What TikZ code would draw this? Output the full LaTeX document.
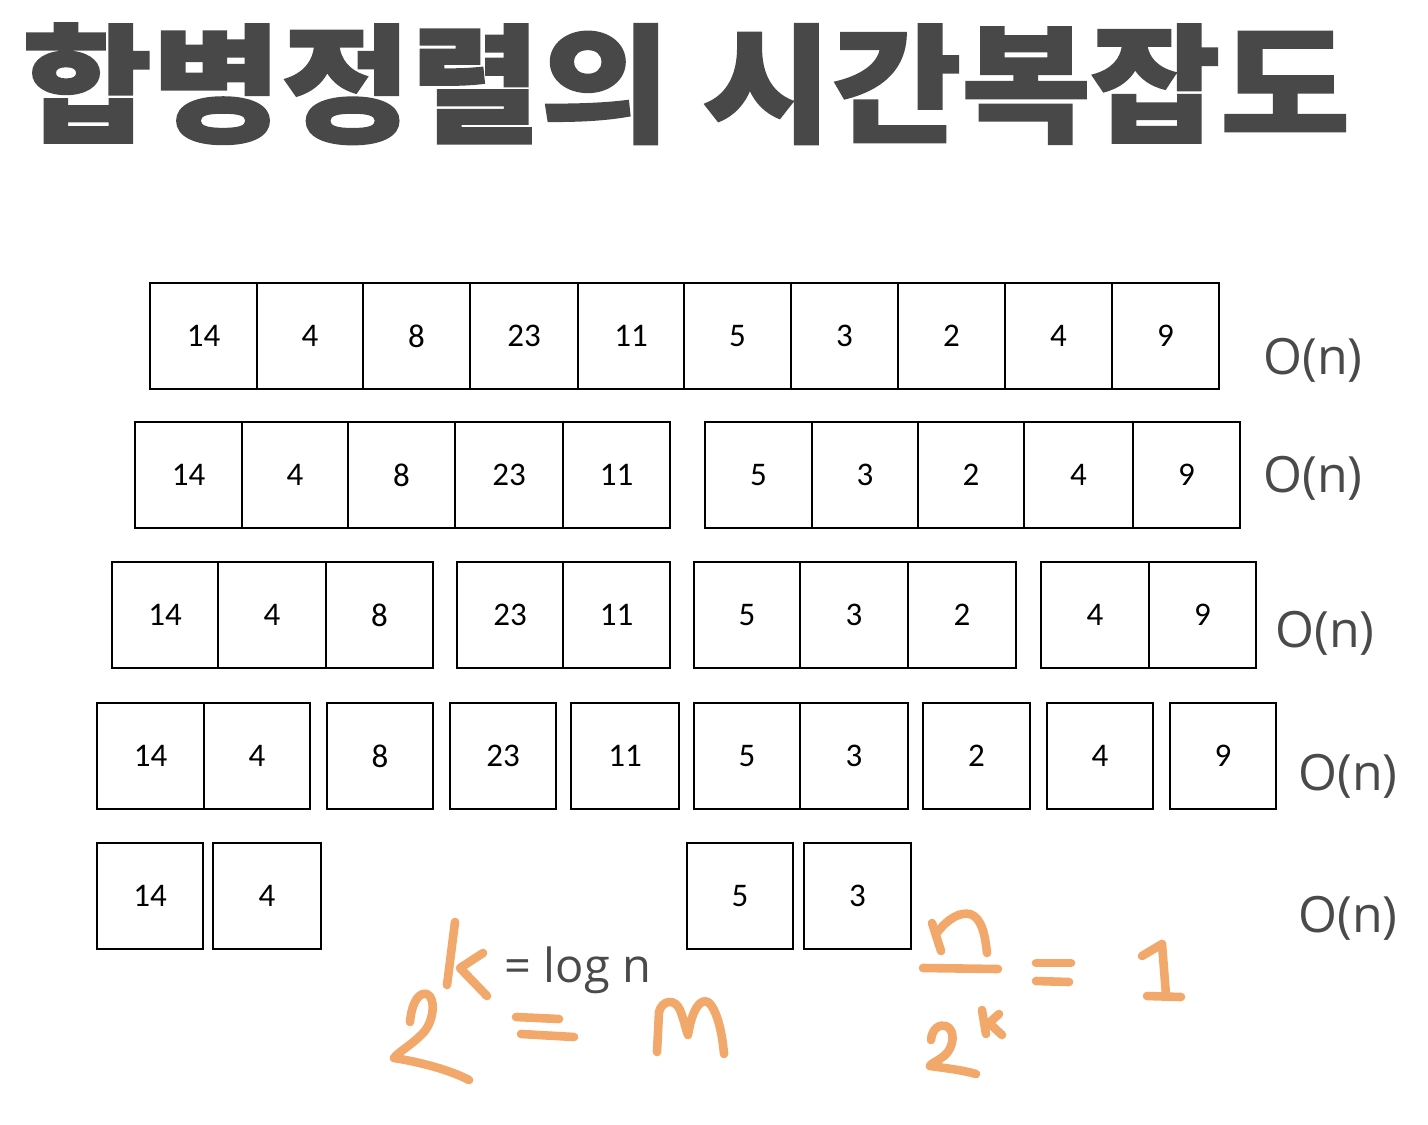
\documentclass[tikz,border=0pt]{standalone}
\usepackage{fontspec}
\setmainfont{Carlito}
\newfontfamily\hangul{Noto Sans CJK KR}
\newfontfamily\labelfont{Open Sans}
\definecolor{titlegray}{HTML}{484848}
\definecolor{textgray}{HTML}{4A4A4A}
\definecolor{pen}{HTML}{F2A86B}

\tikzset{
  cell/.style={draw, line width=0.8pt, inner sep=0pt, minimum height=53pt,
    font=\fontsize{16.5}{16.5}\selectfont},
  cost/.style={font=\labelfont\fontsize{25}{25}\selectfont, text=textgray},
  ink/.style={draw=pen, line width=4.3pt, line cap=round, line join=round},
}

\begin{document}
\begin{tikzpicture}[x=0.5pt, y=-0.5pt]
\useasboundingbox (0,0) rectangle (1428,1124);

% title
\node[anchor=base west, inner sep=0pt, text=titlegray,
      font=\hangul\bfseries\addfontfeatures{FakeBold=1.5}\fontsize{64}{64}\selectfont] (title) at (22,132)
      {\scalebox{1.1}[1]{합병정렬의 시간복잡도}};

% rows of cells
\foreach \row/\top/\cells in {
  1/283/{150/257/14, 257/363/4, 363/470/8, 470/578/23, 578/684/11, 684/791/5, 791/898/3, 898/1005/2, 1005/1112/4, 1112/1219/9},
  2/422/{135/242/14, 242/348/4, 348/455/8, 455/563/23, 563/670/11, 705/812/5, 812/918/3, 918/1024/2, 1024/1133/4, 1133/1240/9},
  3/562/{112/218/14, 218/326/4, 326/433/8, 457/563/23, 563/670/11, 694/800/5, 800/908/3, 908/1016/2, 1041/1149/4, 1149/1256/9},
  4/703/{97/204/14, 204/310/4, 327/433/8, 450/556/23, 571/679/11, 694/800/5, 800/908/3, 923/1030/2, 1047/1153/4, 1170/1276/9},
  5/843/{97/203/14, 213/321/4, 687/793/5, 804/911/3}}
{
  \foreach \l/\r/\v [count=\c] in \cells
    \node[cell, minimum width={(\r-\l)*0.5pt}] (r\row-\c) at ({(\l+\r)/2},\top+53) {\v};
}

% cost per level
\node[cost] (cost1) at (1313,360) {O(n)};
\node[cost] (cost2) at (1313,478) {O(n)};
\node[cost] (cost3) at (1325,633) {O(n)};
\node[cost] (cost4) at (1348,776) {O(n)};
\node[cost] (cost5) at (1348,918) {O(n)};

\node[cost, font=\labelfont\fontsize{23.5}{23.5}\selectfont] (logn) at (578,970) {= log n};

% handwriting: 2^k = n
\draw[ink] (455,922) -- (447,985);
\draw[ink] (483,953) -- (460,968) -- (487,996);
\draw[ink] (410,1022) .. controls (412,1000) and (420,992) .. (427,994)
  .. controls (436,998) and (434,1020) .. (424,1032)
  .. controls (412,1045) and (398,1052) .. (394,1058)
  .. controls (420,1062) and (450,1070) .. (469,1080);
\draw[ink] (516,1017) -- (559,1019);
\draw[ink] (521,1034) -- (574,1037);
\draw[ink] (657,1052) -- (659,1012) .. controls (662,1000) and (675,998) .. (680,1010)
  .. controls (684,1020) and (686,1030) .. (688,1035)
  .. controls (692,1010) and (700,998) .. (708,1002)
  .. controls (716,1008) and (722,1030) .. (724,1054);

% handwriting: n / 2^k = 1
\draw[ink] (932,923) -- (941,951);
\draw[ink] (936,934) .. controls (948,918) and (960,912) .. (970,914)
  .. controls (982,918) and (985,935) .. (987,953);
\draw[ink] (923,968) -- (998,969);
\draw[ink] (931,1040) .. controls (932,1028) and (940,1024) .. (946,1026)
  .. controls (956,1030) and (954,1048) .. (944,1056)
  .. controls (936,1062) and (930,1064) .. (930,1066)
  .. controls (945,1068) and (962,1070) .. (976,1074);
\draw[ink] (982,1010) -- (986,1034);
\draw[ink] (999,1014) -- (989,1023) -- (1002,1035);
\draw[ink] (1036,963) -- (1071,963);
\draw[ink] (1036,981) -- (1069,982);
\draw[ink] (1142,956) -- (1162,944) -- (1166,995);
\draw[ink] (1147,996) -- (1181,997);
\end{tikzpicture}
\end{document}
